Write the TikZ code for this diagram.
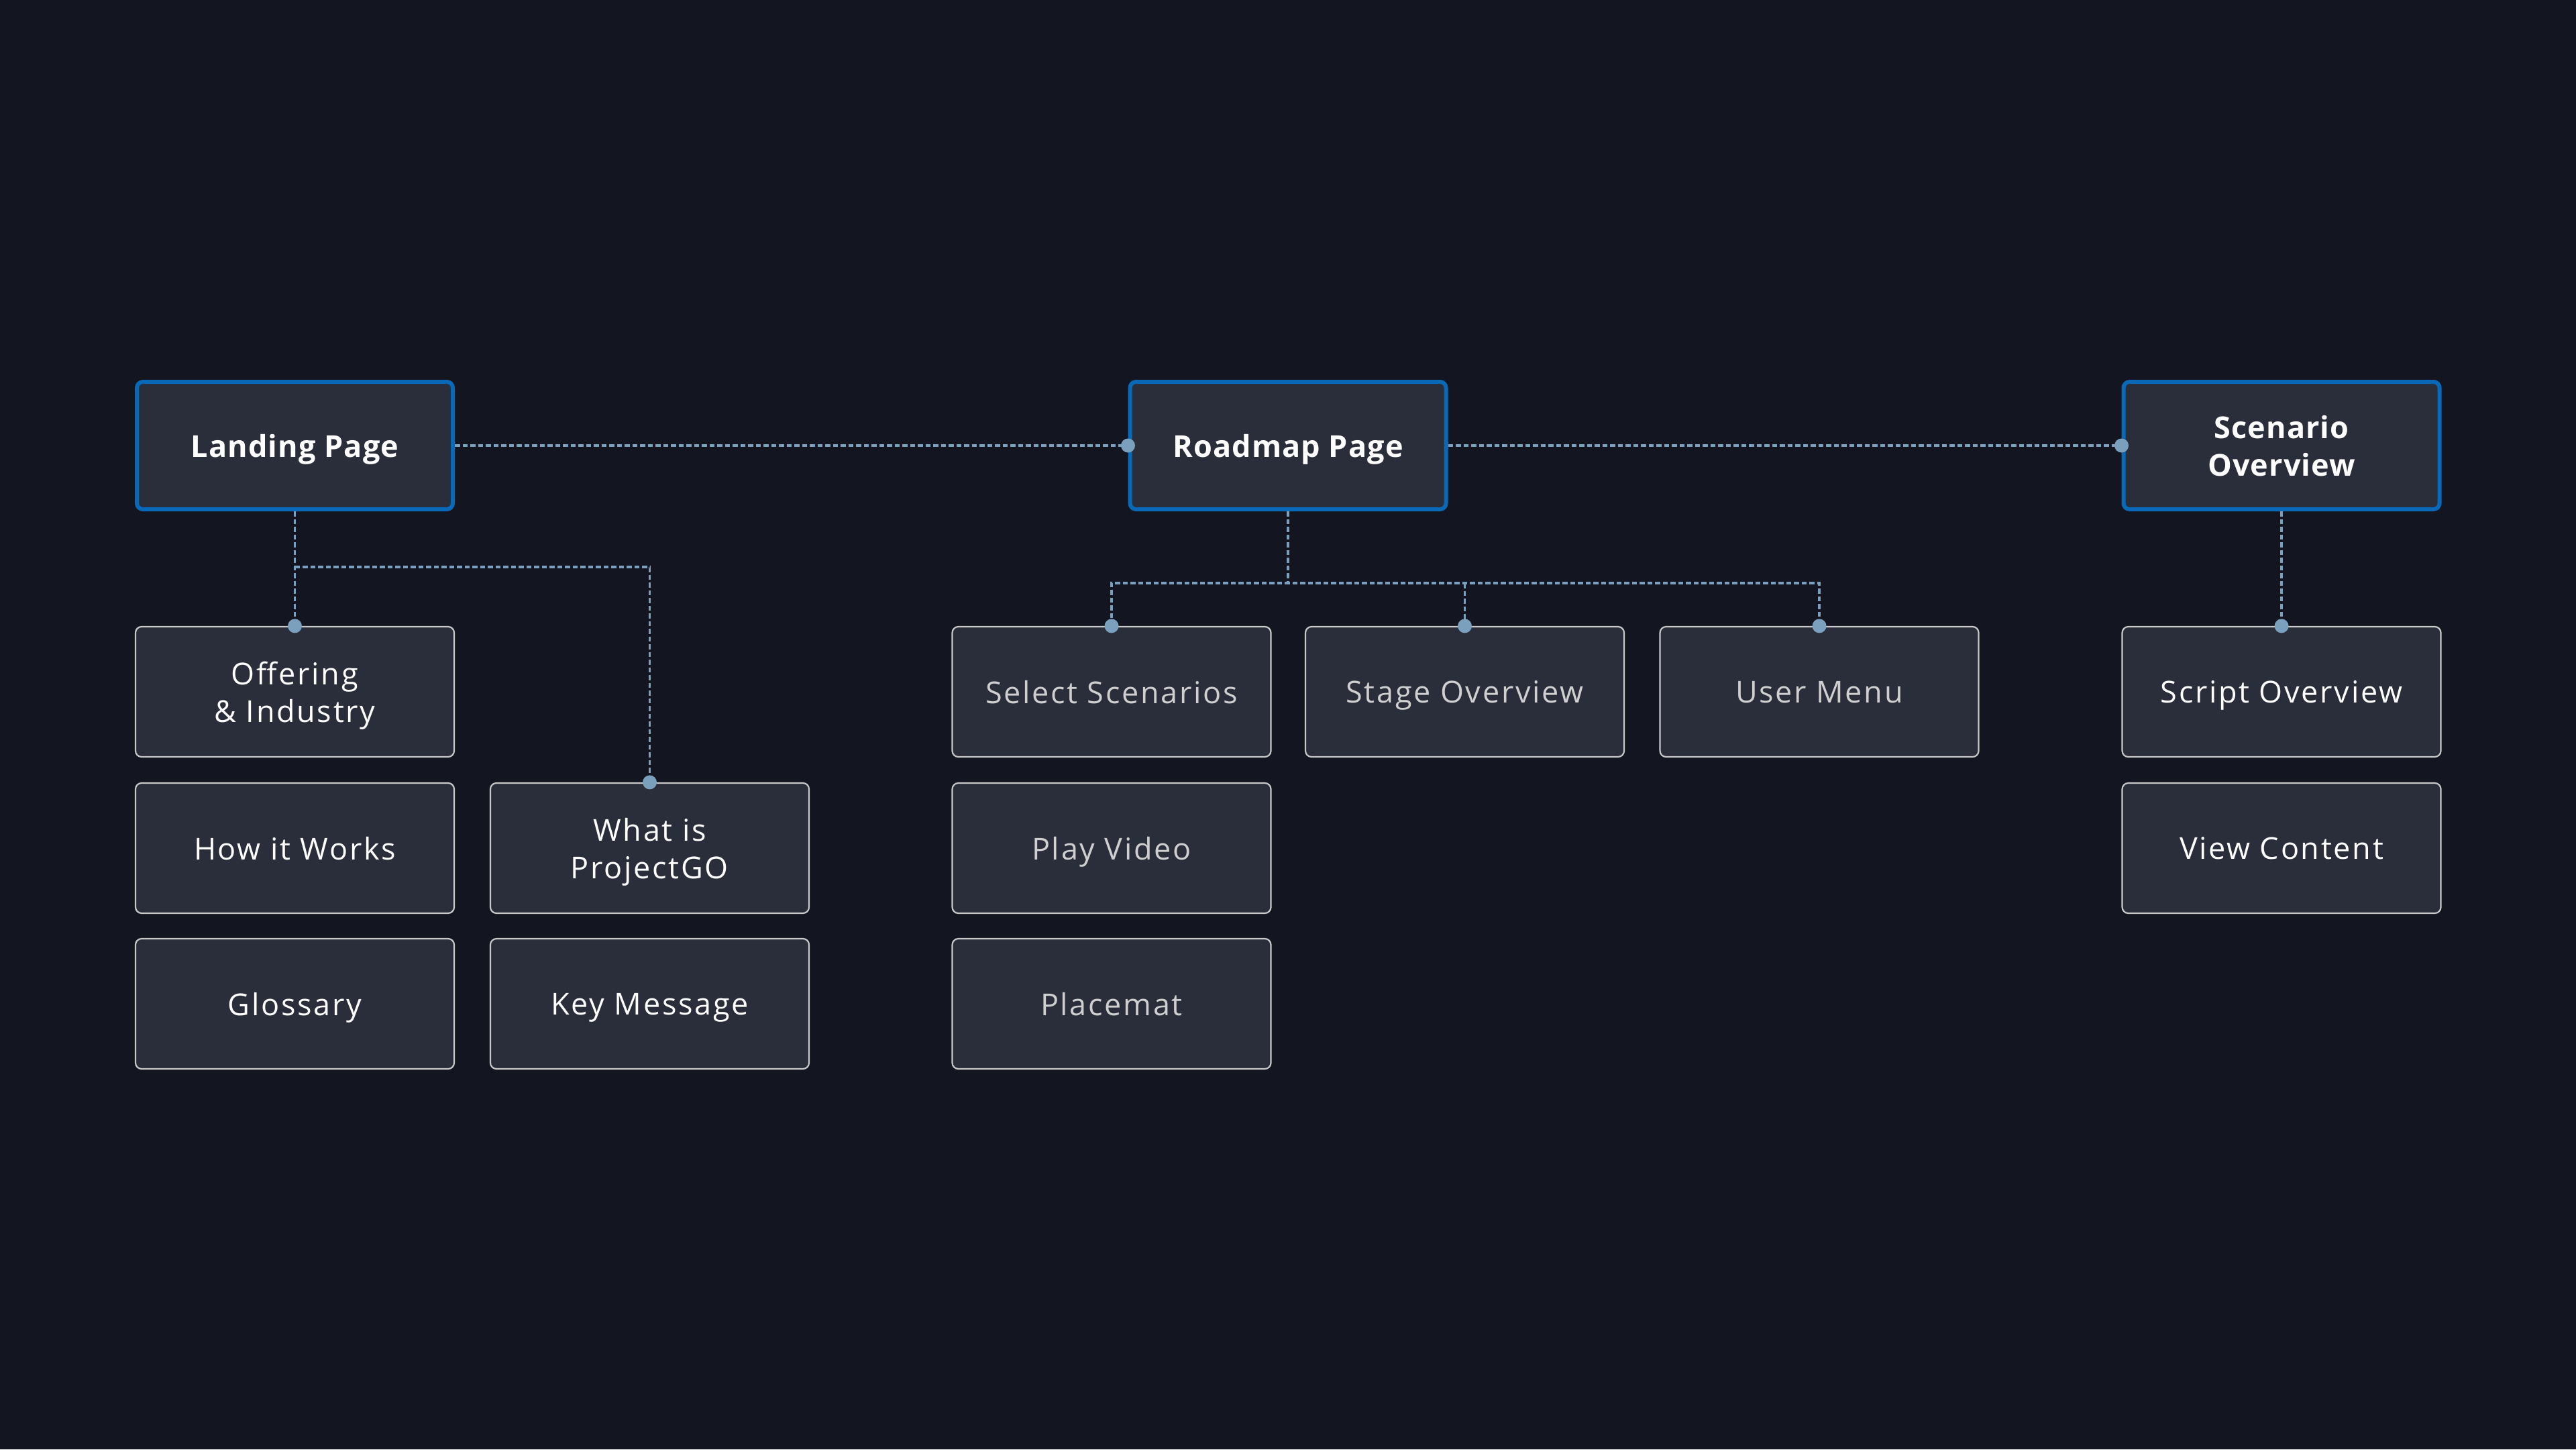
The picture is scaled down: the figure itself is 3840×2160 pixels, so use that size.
\documentclass[tikz,border=0pt]{standalone}
\usepackage{fontspec}
\setmainfont{Open Sans}[LetterSpace=6]
\newfontfamily\pagefont{Open Sans}[LetterSpace=2.5]
\definecolor{bgc}{HTML}{131620}
\definecolor{boxfill}{HTML}{2A2D3A}
\definecolor{pageblue}{HTML}{0A69B6}
\definecolor{childline}{HTML}{C8C8C8}
\definecolor{conncol}{HTML}{7BA0BE}
\definecolor{greytext}{HTML}{CFCFCF}
\begin{document}
\begin{tikzpicture}[x=1pt,y=-1pt,
  pagebox/.style={draw=pageblue, line width=6pt, fill=boxfill, rounded corners=9pt,
    minimum width=471pt, minimum height=190pt, inner sep=0pt, align=center,
    text depth=0pt, text=white, font=\pagefont\fontsize{45}{56}\selectfont\bfseries},
  childbox/.style={draw=childline, line width=2.2pt, fill=boxfill, rounded corners=9pt,
    minimum width=475pt, minimum height=194pt, inner sep=0pt, align=center,
    text depth=0pt, text=white, font=\fontsize{45}{56}\selectfont},
  greychild/.style={childbox, text=greytext},
  conn/.style={draw=conncol, line width=3.5pt, dash pattern=on 7.5pt off 4pt},
  dotc/.style={fill=conncol}
]
\fill[bgc] (0,0) rectangle (3840,2160);
% top-level pages
\node[pagebox] (landing) at (439.5,664) {Landing Page};
\node[pagebox] (roadmap) at (1920,664) {Roadmap Page};
\node[pagebox] (scenario) at (3401,664) {Scenario\\Overview};
% landing children
\node[childbox] (offering) at (439.5,1031) {Offering\\\& Industry};
\node[childbox] (how) at (439.5,1264) {How it Works};
\node[childbox] (what) at (968.5,1264) {What is\\ProjectGO};
\node[childbox] (glossary) at (439.5,1496) {Glossary};
\node[childbox] (key) at (968.5,1496) {Key Message};
% roadmap children
\node[greychild] (select) at (1657,1031) {Select Scenarios};
\node[greychild] (stage) at (2183.5,1031) {Stage Overview};
\node[greychild] (usermenu) at (2712,1031) {User Menu};
\node[greychild] (play) at (1657,1264) {Play Video};
\node[greychild] (placemat) at (1657,1496) {Placemat};
% scenario children
\node[childbox] (script) at (3401,1031) {Script Overview};
\node[childbox] (view) at (3401,1264) {View Content};
% branch points
\coordinate (lb) at (439.5,845);
\coordinate (rb) at (1920,869);
% connectors
\draw[conn] (landing.east) -- (roadmap.west);
\draw[conn] (roadmap.east) -- (scenario.west);
\draw[conn] (landing.south) -- (offering.north);
\draw[conn] (lb) -| (what.north);
\draw[conn] (roadmap.south) -- (rb);
\draw[conn] (select.north) |- (rb -| usermenu.north) -- (usermenu.north);
\draw[conn] (rb -| stage.north) -- (stage.north);
\draw[conn] (scenario.south) -- (script.north);
% dots
\foreach \n in {roadmap.west, scenario.west, offering.north, what.north, select.north, stage.north, usermenu.north, script.north}
  \fill[dotc] (\n) circle[radius=10.5pt];
\end{tikzpicture}
\end{document}
